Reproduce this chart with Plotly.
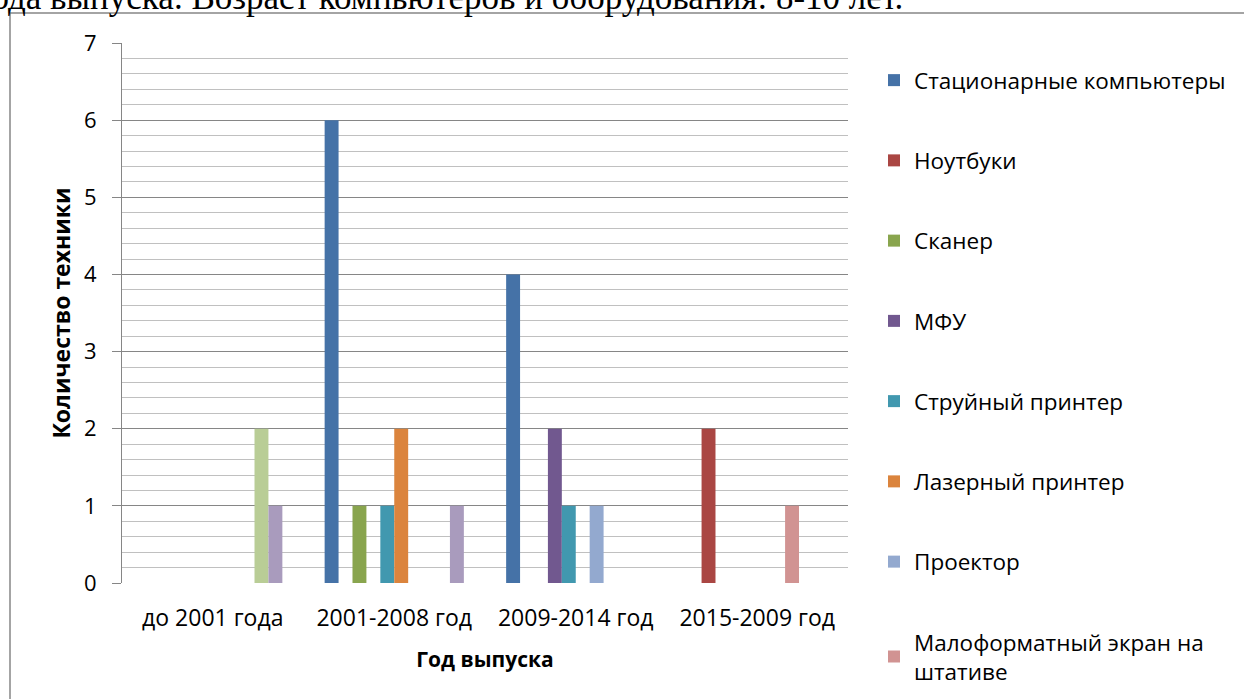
import plotly.graph_objects as go

categories = ["до 2001 года", "2001-2008 год", "2009-2014 год", "2015-2009 год"]

series_names = [
    "Стационарные компьютеры",
    "Ноутбуки",
    "Сканер",
    "МФУ",
    "Струйный принтер",
    "Лазерный принтер",
    "Проектор",
    "Малоформатный экран на<br>штативе",
    "Серия 9",
    "Серия 10",
]

desktops = [0, 6, 4, 0]
laptops = [0, 0, 0, 2]
scanner = [0, 1, 0, 0]
mfu = [0, 0, 2, 0]
inkjet = [0, 1, 1, 0]
laser = [0, 2, 0, 0]
projector = [0, 0, 1, 0]
screen = [0, 0, 0, 1]
series9 = [2, 0, 0, 0]
series10 = [1, 1, 0, 0]

series_values = [desktops, laptops, scanner, mfu, inkjet, laser, projector, screen, series9, series10]
series_colors = ["#4572A7", "#AA4643", "#89A54E", "#71588F", "#4198AF",
                 "#DB843D", "#93A9CF", "#D19392", "#B9CD96", "#A99BBD"]
in_legend = [True] * 8 + [False, False]

y_ticks = [0, 1, 2, 3, 4, 5, 6, 7]

FONT = "Open Sans"

fig = go.Figure()
for i, (name, vals, col, leg) in enumerate(zip(series_names, series_values, series_colors, in_legend)):
    fig.add_trace(go.Bar(
        x=categories, y=vals, name=name,
        marker=dict(color=col, line=dict(width=0)),
        showlegend=leg, legendgroup=f"g{i}",
    ))

L, R, T, B = 122, 1244 - 848, 43, 699 - 583
W, H = 1244, 699
pw, ph = W - L - R, H - T - B

def px(xp):
    return (xp - L) / pw

def py(yp):
    return (H - B - yp) / ph

fig.update_layout(
    width=W, height=H,
    margin=dict(l=L, r=R, t=T, b=B, autoexpand=False),
    paper_bgcolor="white", plot_bgcolor="white",
    barmode="group", bargap=0.233, bargroupgap=0,
    font=dict(family=FONT, size=22, color="black"),
    showlegend=True,
    legend=dict(
        x=px(874), y=py(59), xanchor="left", yanchor="top",
        font=dict(family=FONT, size=22.5, color="black"),
        tracegroupgap=48, itemwidth=30, bgcolor="rgba(0,0,0,0)",
        maxheight=700,
    ),
    xaxis=dict(
        showgrid=False, showline=False, ticks="",
        tickfont=dict(family=FONT, size=23, color="black"),
        ticklabelstandoff=19,
        title=dict(text="<b>Год выпуска</b>", font=dict(family=FONT, size=21, color="black"), standoff=20),
    ),
    yaxis=dict(
        range=[0, 7], tickvals=y_ticks, ticks="outside", ticklen=9, tickcolor="#868686",
        showline=True, linecolor="#868686", linewidth=1,
        showgrid=True, gridcolor="#868686", gridwidth=1,
        minor=dict(dtick=0.2, showgrid=True, gridcolor="#C0C0C0", gridwidth=1, ticks=""),
        zeroline=False,
        tickfont=dict(family=FONT, size=22, color="black"),
        ticklabelstandoff=11,
        title=dict(text="<b>Количество техники</b>", font=dict(family=FONT, size=23, color="black"), standoff=6),
    ),
    shapes=[
        dict(type="rect", xref="paper", yref="paper",
             x0=px(10), x1=px(1260), y0=py(720), y1=py(13),
             line=dict(color="#868686", width=1.5), fillcolor="rgba(0,0,0,0)", layer="below"),
    ],
    annotations=[
        dict(text="года выпуска. Возраст компьютеров и оборудования: 8-10 лет.",
             xref="paper", yref="paper", x=px(905), y=py(19),
             xanchor="right", yanchor="bottom", showarrow=False,
             font=dict(family="Liberation Serif", size=35, color="black")),
    ],
)

fig.write_html("out.html", config={"displayModeBar": False},
               post_script="document.body.style.margin='0';document.body.style.overflow='hidden';")
